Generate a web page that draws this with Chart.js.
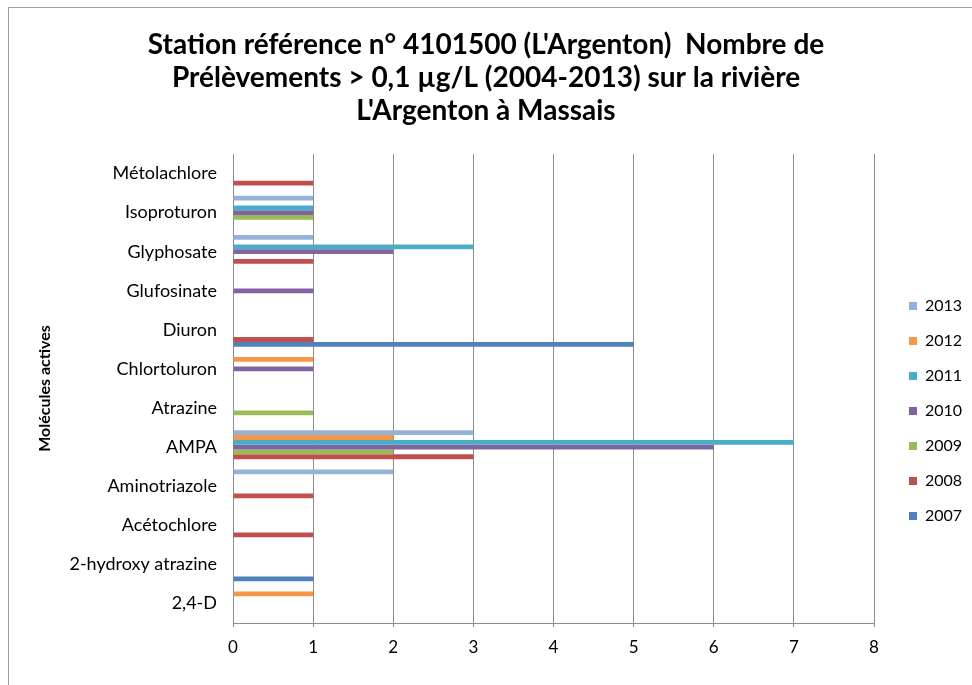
<!DOCTYPE html>
<html>
<head>
<meta charset="utf-8">
<script src="https://cdn.jsdelivr.net/npm/chart.js@4"></script>
<style>
  html, body { margin: 0; padding: 0; background: #fff; }
  #wrap { position: relative; width: 972px; height: 685px; overflow: hidden; }
  #frame { position: absolute; left: 8px; top: 7px; width: 1100px; height: 800px;
           border-left: 1px solid #a0a0a0; border-top: 1px solid #a0a0a0; }
  canvas { position: absolute; left: 0; top: 0; }
</style>
</head>
<body>
<div id="wrap">
  <div id="frame"></div>
  <canvas id="c" width="972" height="685"></canvas>
</div>
<script>
// Categories, top to bottom as shown
const molecules = ["Métolachlore", "Isoproturon", "Glyphosate", "Glufosinate", "Diuron",
  "Chlortoluron", "Atrazine", "AMPA", "Aminotriazole", "Acétochlore", "2-hydroxy atrazine", "2,4-D"];

// Series values (null = no sample above threshold), same order as molecules
const y2013 = [null, 1, 1, null, null, null, null, 3, 2, null, null, null];
const y2012 = [null, null, null, null, null, 1, null, 2, null, null, null, 1];
const y2011 = [null, 1, 3, null, null, null, null, 7, null, null, null, null];
const y2010 = [null, 1, 2, 1, null, 1, null, 6, null, null, null, null];
const y2009 = [null, 1, null, null, null, null, 1, 2, null, null, null, null];
const y2008 = [1, null, 1, null, 1, null, null, 3, 1, 1, null, null];
const y2007 = [null, null, null, null, 5, null, null, null, null, null, 1, null];

const seriesNames = ["2013", "2012", "2011", "2010", "2009", "2008", "2007"];
const seriesData = [y2013, y2012, y2011, y2010, y2009, y2008, y2007];
const seriesColors = ["#95B3D7", "#F79646", "#4BACC6", "#8064A2", "#9BBB59", "#C0504D", "#4F81BD"];

const xTicks = [0, 1, 2, 3, 4, 5, 6, 7, 8];

const titleLines = [
  "Station référence n° 4101500 (L'Argenton)  Nombre de",
  "Prélèvements > 0,1 µg/L (2004-2013) sur la rivière",
  "L'Argenton à Massais"
];

const FONT = "Lato, 'Open Sans', sans-serif";

const legendTweak = {
  id: 'legendTweak',
  beforeLayout(chart) {
    const lg = chart.legend;
    if (lg && !lg._patched) {
      const f = lg.fit.bind(lg);
      lg.fit = function () { f(); this.width = 98; };
      lg._patched = true;
    }
  },
  afterLayout(chart) {
    const lg = chart.legend;
    if (lg) {
      const h = lg.bottom - lg.top;
      lg.left += 16; lg.right += 16;
      lg.top = 279; lg.bottom = 279 + h;
    }
  }
};

new Chart(document.getElementById('c'), {
  type: 'bar',
  data: {
    labels: molecules,
    datasets: seriesNames.map((n, i) => ({
      label: n,
      data: seriesData[i],
      backgroundColor: seriesColors[i],
      borderWidth: 0,
      categoryPercentage: 0.86,
      barPercentage: 1.0
    }))
  },
  options: {
    indexAxis: 'y',
    responsive: false,
    animation: false,
    devicePixelRatio: 1,
    layout: { padding: { left: 0, right: 0, top: 0, bottom: 0 } },
    plugins: {
      title: {
        display: true,
        text: titleLines,
        color: '#000',
        font: { family: FONT, size: 28, weight: 'bold', lineHeight: 33 / 28 },
        padding: { top: 28, bottom: 27 }
      },
      legend: {
        position: 'right',
        align: 'start',
        labels: {
          boxWidth: 8, boxHeight: 8, padding: 19, color: '#000',
          font: { family: FONT, size: 16 }
        }
      },
      tooltip: { enabled: false }
    },
    scales: {
      x: {
        type: 'linear', min: 0, max: 8,
        afterBuildTicks(scale) { scale.ticks = xTicks.map(v => ({ value: v })); },
        afterFit(scale) { scale.height = 685 - 623; },
        grid: { color: '#8c8c8c', lineWidth: 1, tickLength: 4, drawTicks: true },
        border: { color: '#8c8c8c' },
        ticks: { color: '#000', font: { family: FONT, size: 17 }, padding: 10 }
      },
      y: {
        type: 'category',
        afterFit(scale) { scale.width = 233; },
        grid: { display: false, drawTicks: false },
        border: { color: '#8c8c8c', display: true },
        ticks: { color: '#000', font: { family: FONT, size: 18 }, padding: 16, autoSkip: false },
        title: {
          display: true, text: 'Molécules actives', color: '#000',
          font: { family: FONT, size: 16, weight: 'bold' },
          padding: { top: 35, bottom: 0 }
        }
      }
    }
  },
  plugins: [legendTweak]
});
</script>
</body>
</html>
